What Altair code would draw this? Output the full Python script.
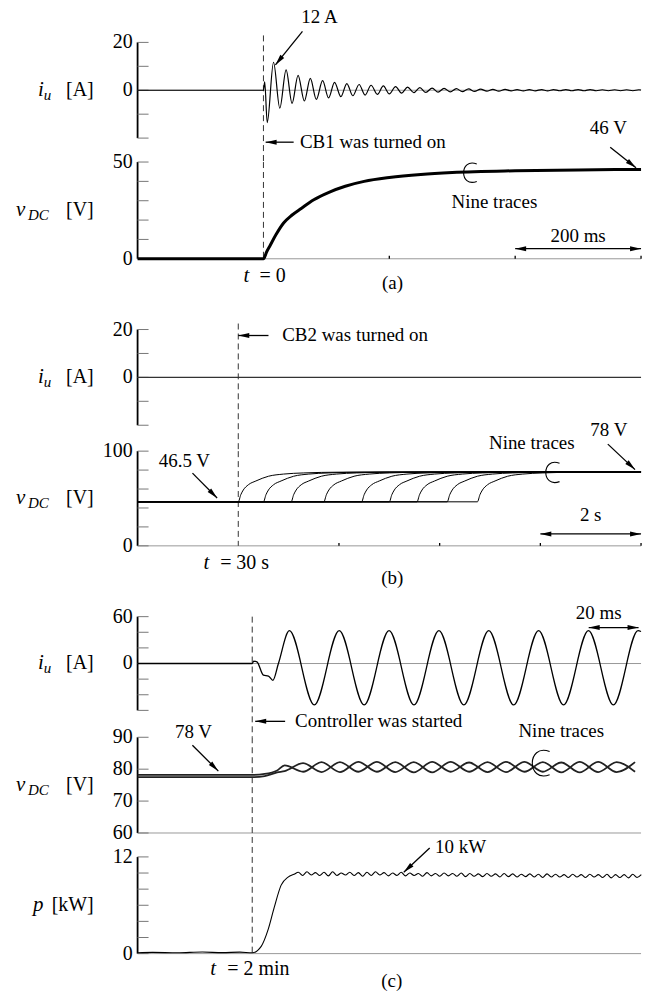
import math
import altair as alt
import pandas as pd

# ---------------- values ----------------
# (a) CB1 closing, time in ms, i_u in A, v_DC in V
A_IU = [[-200, 0], [0, 0], [2, 3.5], [6, -13.5], [16, 11.7], [26, -7.5], [36, 8.5], [45.5, -5.5],
        [55, 6.2], [65, -4.5], [74.5, 5.0], [84, -3.8], [94, 4.0], [103.5, -3.2], [113, 3.3],
        [123, -2.7], [132.5, 2.8], [142, -2.3], [152, 2.4], [161.5, -2.0], [171, 2.1], [181, -1.7],
        [190.5, 1.8], [200, -1.5], [210, 1.5], [219.5, -1.2], [229, 1.3], [239, -1.0], [248.5, 1.1],
        [258, -0.9], [268, 0.9], [277.5, -0.8], [287, 0.8], [297, -0.7], [306.5, 0.7], [316, -0.6],
        [326, 0.6], [335.5, -0.5], [345, 0.5], [355, -0.4], [364.5, 0.4], [374, -0.4], [384, 0.4],
        [393.5, -0.3], [403, 0.3], [413, -0.3], [422.5, 0.3], [432, -0.25], [442, 0.3], [451.5, -0.25],
        [461, 0.25], [471, -0.2], [480.5, 0.25], [490, -0.2], [500, 0.25], [509.5, -0.2], [519, 0.25],
        [529, -0.2], [538.5, 0.2], [548, -0.2], [558, 0.2], [567.5, -0.2], [577, 0.2], [587, -0.2],
        [596.5, 0.2], [600, 0.1]]
A_VDC = [[-200, 0], [0, 0], [5, 3.5], [10, 6.5], [20, 12.5], [32, 18.5], [45, 22.5], [60, 26],
         [80, 30.5], [105, 34.5], [130, 37.5], [160, 40], [200, 42], [250, 43.6], [300, 44.6],
         [400, 45.5], [500, 45.9], [600, 46.2]]

# (b) CB2 closing, time in s
B_IU = [[-2, 0], [8, 0]]
B_STARTS = [0.0, 0.5, 1.05, 1.7, 2.45, 3.0, 3.55, 4.15, 4.75]
B_BASE = 46.5
B_RISE_DT = [0, 0.05, 0.1, 0.2, 0.35, 0.6, 0.9, 1.3, 2.0, 3.0]
B_RISE_V = [46.5, 54, 59, 64.5, 68.5, 73.5, 75.8, 77, 77.8, 78]

# (c) controller start, time in ms
C_IU = [[-46, 0], [0, 0], [0.6, 3], [1.9, 2], [4.5, -15], [6.5, -16], [8.3, -21.5], [10.5, 0],
        [14.9, 42], [24.9, -53], [34.9, 42], [44.9, -53], [54.9, 42], [64.9, -53], [74.9, 42],
        [84.9, -53], [94.9, 42], [104.9, -53], [114.9, 42], [124.9, -53], [134.9, 42], [144.9, -53],
        [154.8, 42], [156, 41]]
C_VDC_A_PRE = [[-46, 78.2], [0, 78.2], [5, 78.5], [10, 79.6]]
C_VDC_B_PRE = [[-46, 77.5], [0, 77.5], [5, 77.8], [10, 79.0]]
C_RIP_T0, C_RIP_DT = 13.0, 7.4
C_RIP_A = [81.2, 79.2, 82.2, 79.1, 82.3, 79.2, 82.2, 79.0, 82.3, 79.2,
           82.1, 79.1, 82.3, 79.2, 82.2, 79.0, 82.3, 79.1, 82.2, 79.2]
C_RIP_B = [79.4, 81.9, 79.1, 82.2, 79.2, 82.3, 79.1, 82.2, 79.0, 82.3,
           79.2, 82.2, 79.1, 82.3, 79.2, 82.1, 79.0, 82.3, 79.1, 82.2]
C_P_PRE = [[-46, 0.1], [-40, 0.15], [-30, 0.1], [-20, 0.2], [-12, 0.12], [-5, 0.18], [0, 0.1],
           [3.6, 0.9], [6.4, 3.0], [8.8, 5.7], [11.6, 8.5], [14.4, 9.5], [16.8, 9.85]]
C_P_T0, C_P_DT = 18.5, 1.72
C_P_RIP = [10.1, 9.7, 10.15, 9.75, 10.05, 9.7, 10.1, 9.65, 10.15, 9.7,
           10.0, 9.75, 10.1, 9.7, 10.05, 9.6, 10.1, 9.7, 10.15, 9.75,
           10.05, 9.65, 10.0, 9.7, 10.1, 9.65, 10.0, 9.7, 9.95, 9.6,
           10.05, 9.65, 9.95, 9.6, 10.0, 9.65, 9.95, 9.6, 10.0, 9.55,
           9.95, 9.6, 9.9, 9.55, 9.95, 9.6, 9.9, 9.5, 9.95, 9.55,
           9.9, 9.5, 9.85, 9.55, 9.9, 9.5, 9.85, 9.45, 9.9, 9.5,
           9.85, 9.5, 9.8, 9.45, 9.85, 9.5, 9.8, 9.45, 9.85, 9.5,
           9.8, 9.45, 9.85, 9.4, 9.8, 9.45, 9.8, 9.4, 9.85, 9.45, 9.8]

# axis ticks / labels
A1_TICKS, A1_LAB = [-20, -10, 0, 10, 20], [20, 0]
A2_TICKS, A2_LAB = [0, 10, 20, 30, 40, 50], [50, 0]
B1_TICKS, B1_LAB = [-20, -10, 0, 10, 20], [20, 0]
B2_TICKS, B2_LAB = [0, 20, 40, 60, 80, 100], [100, 0]
C1_TICKS, C1_LAB = [-60, -40, -20, 0, 20, 40, 60], [60, 0]
C2_TICKS, C2_LAB = [60, 70, 80, 90], [90, 80, 70, 60]
C3_TICKS, C3_LAB = [0, 2, 4, 6, 8, 10, 12], [12, 0]

# ---------------- drawing helpers ----------------
W = 505
SP = 24
FONT = "Liberation Serif, Times New Roman, Times, serif"
HEAD = "M0,0L-0.45,2L0.45,2Z"
LOOP = "M0.4,-0.8C-1.2,-1.4 -1.2,1.4 0.4,0.8"


def sc(d):
    return alt.Scale(domain=list(d), nice=False, zero=False)


class Panel:
    def __init__(self, xdom, ydom, h):
        self.xdom, self.ydom, self.h = xdom, ydom, h
        self.layers = []

    def X(self, f="x"):
        return alt.X(f + ":Q", scale=sc(self.xdom), axis=None)

    def Y(self, f="y"):
        return alt.Y(f + ":Q", scale=sc(self.ydom), axis=None)

    def px(self, x, y):
        (x0, x1), (y0, y1) = self.xdom, self.ydom
        return (x - x0) / (x1 - x0) * W, self.h - (y - y0) / (y1 - y0) * self.h

    def add(self, c):
        self.layers.append(c)

    def line(self, df, width=1.2, color="black"):
        enc = dict(x=self.X(), y=self.Y())
        if "k" in df.columns:
            enc["detail"] = "k:N"
        self.add(alt.Chart(df).mark_line(color=color, strokeWidth=width,
                                         interpolate="monotone").encode(**enc))

    def text(self, x, y, s, size=19, style="normal", align="center", dx=0, dy=0):
        df = pd.DataFrame({"x": [x], "y": [y], "s": [s]})
        self.add(alt.Chart(df).mark_text(font=FONT, fontSize=size, fontStyle=style, align=align,
                                         baseline="middle", dx=dx, dy=dy, color="black")
                 .encode(x=self.X(), y=self.Y(), text="s:N"))

    def text_px(self, xp, y, s, size=19, style="normal", align="left", dy=0):
        df = pd.DataFrame({"y": [y], "s": [s]})
        self.add(alt.Chart(df).mark_text(font=FONT, fontSize=size, fontStyle=style, align=align,
                                         baseline="middle", dy=dy, color="black")
                 .encode(x=alt.value(xp), y=self.Y(), text="s:N"))

    def axis(self, ticks, labels):
        df = pd.DataFrame({"y": [min(ticks)], "y2": [max(ticks)]})
        self.add(alt.Chart(df).mark_rule(color="black", strokeWidth=1.8)
                 .encode(x=alt.value(0), y=self.Y(), y2="y2:Q"))
        self.add(alt.Chart(pd.DataFrame({"y": ticks})).mark_rule(color="#777", strokeWidth=1)
                 .encode(x=alt.value(0), x2=alt.value(11), y=self.Y()))
        ldf = pd.DataFrame({"y": labels, "s": [str(v) for v in labels]})
        self.add(alt.Chart(ldf).mark_text(font=FONT, fontSize=20, align="right",
                                          baseline="middle", color="black")
                 .encode(x=alt.value(-5), y=self.Y(), text="s:N"))

    def hline(self, y, color="#999", width=1):
        self.add(alt.Chart(pd.DataFrame({"y": [y]})).mark_rule(color=color, strokeWidth=width)
                 .encode(x=alt.value(0), x2=alt.value(W), y=self.Y()))

    def xticks(self, xs, y0, y1):
        df = pd.DataFrame({"x": xs, "y": [y0] * len(xs), "y2": [y1] * len(xs)})
        self.add(alt.Chart(df).mark_rule(color="black", strokeWidth=1.3)
                 .encode(x=self.X(), y=self.Y(), y2="y2:Q"))

    def dash_px(self, x, yp0, yp1):
        self.add(alt.Chart(pd.DataFrame({"x": [x]})).mark_rule(color="#333", strokeWidth=1, strokeDash=[6, 4])
                 .encode(x=self.X(), y=alt.value(yp0), y2=alt.value(yp1)))

    def dash_data(self, x, y0, y1):
        df = pd.DataFrame({"x": [x], "y": [y0], "y2": [y1]})
        self.add(alt.Chart(df).mark_rule(color="#333", strokeWidth=1, strokeDash=[6, 4])
                 .encode(x=self.X(), y=self.Y(), y2="y2:Q"))

    def head(self, x, y, ang, size=121):
        df = pd.DataFrame({"x": [x], "y": [y], "a": [ang]})
        self.add(alt.Chart(df).mark_point(shape=HEAD, filled=True, color="black", opacity=1,
                                          size=size, strokeWidth=0)
                 .encode(x=self.X(), y=self.Y(), angle=alt.Angle("a:Q", scale=None)))

    def arrow(self, x0, y0, x1, y1, width=1.3):
        df = pd.DataFrame({"x": [x0], "y": [y0], "x2": [x1], "y2": [y1]})
        self.add(alt.Chart(df).mark_rule(color="black", strokeWidth=width)
                 .encode(x=self.X(), y=self.Y(), x2="x2:Q", y2="y2:Q"))
        p0, p1 = self.px(x0, y0), self.px(x1, y1)
        ang = math.degrees(math.atan2(p1[0] - p0[0], -(p1[1] - p0[1]))) % 360
        self.head(x1, y1, ang)

    def darrow(self, x0, x1, y):
        df = pd.DataFrame({"x": [x0], "y": [y], "x2": [x1]})
        self.add(alt.Chart(df).mark_rule(color="black", strokeWidth=1.3)
                 .encode(x=self.X(), y=self.Y(), x2="x2:Q"))
        self.head(x0, y, 270)
        self.head(x1, y, 90)

    def loop(self, x, y, size):
        df = pd.DataFrame({"x": [x], "y": [y]})
        self.add(alt.Chart(df).mark_point(shape=LOOP, filled=False, color="black", opacity=1,
                                          size=size, strokeWidth=1.1)
                 .encode(x=self.X(), y=self.Y()))

    def anchor(self, yp):
        self.add(alt.Chart(pd.DataFrame({"x": [0]})).mark_rule(color="white", strokeWidth=1)
                 .encode(x=alt.value(-137), x2=alt.value(W + 14), y=alt.value(yp)))

    def chart(self):
        return alt.layer(*self.layers).properties(width=W, height=self.h)


def ylab_iu(p):
    p.text_px(-100, 0, "i", size=21, style="italic")
    p.text_px(-94, 0, "u", size=15, style="italic", dy=5)
    p.text_px(-44, 0, "[A]", size=20, align="right")


def ylab_v(p, y):
    p.text_px(-122, y, "v", size=21, style="italic")
    p.text_px(-110, y, "DC", size=15, style="italic", dy=5)
    p.text_px(-44, y, "[V]", size=20, align="right")


def df2(pts, k=None):
    d = pd.DataFrame(pts, columns=["x", "y"])
    if k is not None:
        d["k"] = k
    return d


# ---------------- (a) ----------------
A_X = [-200, 600]
a1 = Panel(A_X, [-20, 20], 96)
a1.anchor(-40)
a1.hline(0)
a1.axis(A1_TICKS, A1_LAB)
ylab_iu(a1)
a1.dash_px(0, -7, 96 + SP)
a1.line(df2(A_IU), width=1.2)
a1.text(89, 30.4, "12 A")
a1.arrow(62, 24.6, 19, 10.6)
a1.arrow(48, -21.7, 3.5, -21.7)
a1.text(58, -21.7, "CB1 was turned on", align="left")

a2 = Panel(A_X, [-24.2, 50], 144)
a2.hline(0)
a2.axis(A2_TICKS, A2_LAB)
ylab_v(a2, 25)
a2.dash_data(0, 50, 0)
a2.line(df2(A_VDC), width=3)
a2.text(548, 67.5, "46 V")
a2.arrow(551, 57.7, 592, 47.0)
a2.loop(332, 44.5, 484)
a2.text(367, 29.4, "Nine traces")
a2.text(500, 11.9, "200 ms")
a2.darrow(400, 600, 5.2)
a2.xticks([200, 400, 600], 0, 1.6)
a2.text(-31.7, -8.8, "t", size=21, style="italic", align="left")
a2.text(-6.3, -8.8, "= 0", size=20, align="left")
a2.text(205, -12.4, "(a)")

# ---------------- (b) ----------------
B_X = [-2, 8]
b1 = Panel(B_X, [-20.83, 20], 98)
b1.axis(B1_TICKS, B1_LAB)
ylab_iu(b1)
b1.dash_px(0, -6, 98 + SP)
b1.line(df2(B_IU), width=1.4, color="#333")
b1.arrow(0.6, 17.5, 0.0, 17.5)
b1.text(0.873, 17.5, "CB2 was turned on", align="left")

b2 = Panel(B_X, [-49.5, 100], 142)
b2.hline(0)
b2.axis(B2_TICKS, B2_LAB)
ylab_v(b2, 50)
b2.dash_data(0, 100, 0)
rows = []
for k, s in enumerate(B_STARTS):
    rows.append([-2, B_BASE, k])
    for dt, v in zip(B_RISE_DT, B_RISE_V):
        rows.append([s + dt, v, k])
    rows.append([8, B_RISE_V[-1], k])
b2.line(pd.DataFrame(rows, columns=["x", "y", "k"]), width=1.0)
b2.text(-1.07, 89.5, "46.5 V")
b2.arrow(-0.91, 76.8, -0.42, 50.5)
b2.text(5.83, 108.4, "Nine traces")
b2.loop(6.29, 77.5, 529)
b2.text(7.36, 122, "78 V")
b2.arrow(7.34, 107.4, 7.88, 80.5)
b2.text(7.0, 32.6, "2 s")
b2.darrow(6, 8, 12.6)
b2.xticks([2, 4, 6, 8], 0, 3)
b2.text(-0.69, -17.9, "t", size=21, style="italic", align="left")
b2.text(-0.36, -17.9, "= 30 s", size=20, align="left")
b2.text(3.06, -33.7, "(b)")

# ---------------- (c) ----------------
C_X = [-46, 156]
c1 = Panel(C_X, [-63.8, 60], 97)
c1.hline(0)
c1.axis(C1_TICKS, C1_LAB)
ylab_iu(c1)
c1.dash_px(0, 0, 97 + SP)
c1.line(df2(C_IU), width=1.3)
c1.text(139, 65, "20 ms")
c1.darrow(135, 155, 46)

c2 = Panel(C_X, [60, 90], 96)
c2.hline(60)
c2.axis(C2_TICKS, C2_LAB)
ylab_v(c2, 75)
c2.dash_px(0, 0, 96 + SP)
ta = C_VDC_A_PRE + [[C_RIP_T0 + i * C_RIP_DT, v] for i, v in enumerate(C_RIP_A)]
tb = C_VDC_B_PRE + [[C_RIP_T0 + i * C_RIP_DT, v] for i, v in enumerate(C_RIP_B)]
c2.line(pd.concat([df2(ta, 0), df2(tb, 1)]), width=1.8, color="#222")
c2.text(-23.6, 91.6, "78 V")
c2.arrow(-24, 87.5, -13.6, 79.4)
c2.arrow(13.2, 95, 1.2, 95)
c2.text(17.2, 95, "Controller was started", align="left")
c2.text(124, 91.9, "Nine traces")
c2.loop(117, 81.9, 841)

c3 = Panel(C_X, [0, 12], 97)
c3.hline(0)
c3.axis(C3_TICKS, C3_LAB)
c3.text_px(-105, 6, "p", size=21, style="italic")
c3.text_px(-44, 6, "[kW]", size=20, align="right")
c3.dash_data(0, 12, 0)
tp = C_P_PRE + [[C_P_T0 + i * C_P_DT, v] for i, v in enumerate(C_P_RIP)]
c3.line(df2(tp), width=1.1)
c3.text(83.6, 13.2, "10 kW")
c3.arrow(71.2, 13.1, 60.8, 10.1)
c3.text(-16.8, -1.86, "t", size=21, style="italic", align="left")
c3.text(-10.0, -1.86, "= 2 min", size=20, align="left")
c3.text(56, -3.46, "(c)")
c3.anchor(97 + 47)

panels = [a1, a2, b1, b2, c1, c2, c3]
chart = (alt.vconcat(*[p.chart() for p in panels], spacing=SP, bounds="flush")
         .properties(padding=0)
         .configure_view(stroke=None))
chart.save("out.html", embed_options={"renderer": "svg", "actions": False})
